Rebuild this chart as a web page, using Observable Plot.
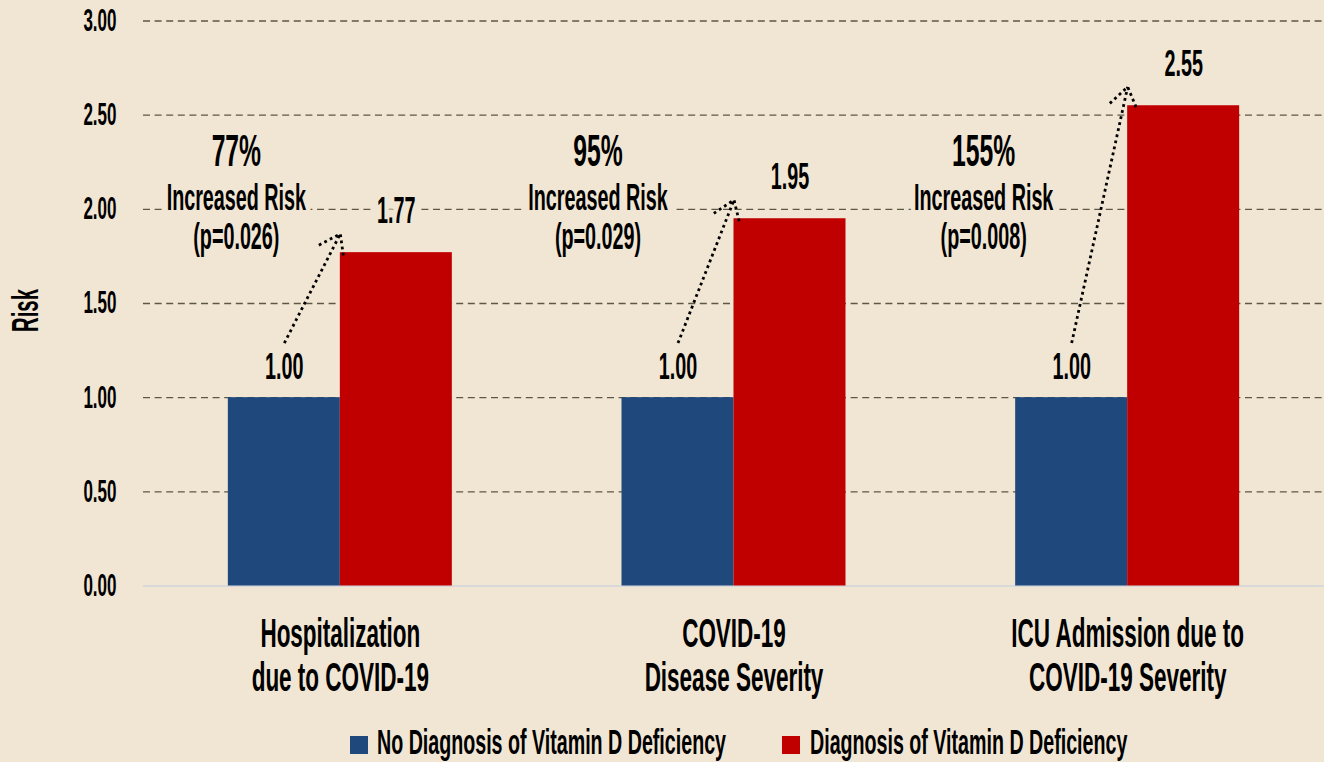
<!DOCTYPE html>
<html>
<head>
<meta charset="utf-8">
<script src="https://cdn.jsdelivr.net/npm/d3@7"></script>
<script src="https://cdn.jsdelivr.net/npm/@observablehq/plot@0.6"></script>
<style>
  html, body { margin: 0; padding: 0; background: #F1E6D3; }
  #wrap { position: relative; width: 1324px; height: 762px; overflow: hidden; background: #F1E6D3; }
  #legend { position: absolute; left: 0; top: 715px; width: 1324px; height: 47px; }
  .sw { position: absolute; width: 18px; height: 18px; top: 21px; }
  .lt { position: absolute; top: 9px; font-size: 35px; line-height: 35px; font-weight: bold; color: #000;
        white-space: nowrap; transform-origin: 0 50%; }
</style>
</head>
<body>
<div id="wrap"><div id="chart"></div><div id="legend"></div></div>
<script>
// ---- data ----
const categories = ["Hospitalization\ndue to COVID-19", "COVID-19\nDisease Severity", "ICU Admission due to\nCOVID-19 Severity"];
const seriesNames = ["No Diagnosis of Vitamin D Deficiency", "Diagnosis of Vitamin D Deficiency"];
const noDeficiency = [1.00, 1.00, 1.00];
const deficiency = [1.77, 1.95, 2.55];
const increasePct = ["77%", "95%", "155%"];
const increaseText = "Increased Risk";
const pValues = ["(p=0.026)", "(p=0.029)", "(p=0.008)"];
const yTicks = [0, 0.5, 1, 1.5, 2, 2.5, 3];

// ---- styles / layout ----
const colors = ["#1F497D", "#C00000"];
const BG = "#F1E6D3";
const FONT = '"Liberation Sans Narrow", "Liberation Sans", Arial, sans-serif';
const W = 0.2845;               // bar width in group units
const annotDx = [-48, -80, -88]; // annotation offset from blue bar center (px)
const annotPctY = 2.2275, annotSubY = 1.787;

const ctx = document.createElement("canvas").getContext("2d");
ctx.font = `bold 41px ${FONT}`;
const S = 160 / ctx.measureText("Hospitalization").width;
ctx.font = `bold 35px ${FONT}`;
const SL = 349 / ctx.measureText(seriesNames[0]).width;

const bars = categories.flatMap((c, i) => [
  {i, s: 0, series: seriesNames[0], value: noDeficiency[i]},
  {i, s: 1, series: seriesNames[1], value: deficiency[i]}
]);
const idx = categories.map((c, i) => i);
const barCenter = d => d.i + 0.5 + (d.s === 0 ? -W / 2 : W / 2);
const fmt = d3.format(".2f");

const marks = [
  Plot.ruleY(yTicks.filter(t => t > 0), {stroke: "#5E5744", strokeWidth: 1.3, strokeDasharray: "7,4.6"}),
  Plot.ruleY([0], {stroke: "#D9D9D9", strokeWidth: 2}),
  Plot.rect(bars, {x1: d => d.i + 0.5 - (d.s === 0 ? W : 0), x2: d => d.i + 0.5 + (d.s === 1 ? W : 0),
                   y1: 0, y2: "value", fill: "series"}),
  ...idx.map(i => Plot.text([i], {x: j => j + 0.5 - W / 2, y: annotPctY, dx: annotDx[i], text: j => increasePct[j],
      fontSize: 45, lineAnchor: "bottom", fill: "black", stroke: BG, strokeWidth: 14})),
  ...idx.map(i => Plot.text([i], {x: j => j + 0.5 - W / 2, y: annotSubY, dx: annotDx[i],
      text: j => increaseText + "\n" + pValues[j], fontSize: 36, lineHeight: 1.09, lineAnchor: "bottom",
      fill: "black", stroke: BG, strokeWidth: 16})),
  Plot.text(bars.filter(d => d.s === 0), {x: barCenter, y: "value", text: d => fmt(d.value), dy: -19,
      lineAnchor: "bottom", fontSize: 36, fill: "black", stroke: BG, strokeWidth: 14}),
  Plot.text(bars.filter(d => d.s === 1), {x: barCenter, y: "value", text: d => fmt(d.value), dy: -30,
      lineAnchor: "bottom", fontSize: 36, fill: "black", stroke: BG, strokeWidth: 16}),
  Plot.arrow(idx, {x1: i => i + 0.5 - W / 2, y1: i => noDeficiency[i] + 0.29, x2: i => i + 0.5, y2: i => deficiency[i] + 0.1,
      stroke: "black", strokeWidth: 2.8, strokeDasharray: "2.8 3.4", strokeLinecap: "butt", headLength: 13, headAngle: 70}),
  Plot.text(idx, {x: i => i + 0.5, frameAnchor: "bottom", text: i => categories[i], dy: 105, lineAnchor: "bottom",
      textAnchor: "middle", fontSize: 41, lineHeight: 1.07, fill: "black"}),
  Plot.text(["Risk"], {frameAnchor: "left", text: d => d, rotate: -90, textAnchor: "middle", lineAnchor: "middle",
      dx: -117.5, dy: 7, fontSize: 37, fill: "black"})
];

const svg = Plot.plot({
  width: 1324, height: 715,
  marginTop: 20.5, marginBottom: 129.5, marginLeft: 143, marginRight: 0,
  style: {background: "transparent", fontFamily: FONT, fontWeight: "bold", fontSize: "31px", color: "black", overflow: "visible"},
  x: {domain: [0, 3], axis: null},
  y: {domain: [0, 3], ticks: yTicks, tickFormat: fmt, tickSize: 0, tickPadding: 27, label: null},
  color: {domain: seriesNames, range: colors},
  marks
});

svg.querySelectorAll("text").forEach(t => {
  const tr = t.getAttribute("transform") || "";
  t.setAttribute("transform", (tr + ` scale(${S},1)`).trim());
  for (const el of [t, ...t.querySelectorAll("tspan")]) {
    const x = el.getAttribute("x");
    if (x != null && x !== "" && !isNaN(+x)) el.setAttribute("x", +x / S);
  }
});
// make sure the arrows are dotted
svg.querySelectorAll("path").forEach(p => {
  const g = p.closest("g");
  if (g && g.getAttribute("stroke-dasharray") === "2.8 3.4") p.setAttribute("stroke-dasharray", "2.8 3.4");
});
document.getElementById("chart").appendChild(svg);

// legend
const legend = document.getElementById("legend");
const swLeft = [350, 782], txLeft = [377, 810];
seriesNames.forEach((name, k) => {
  const sw = document.createElement("div");
  sw.className = "sw"; sw.style.left = swLeft[k] + "px"; sw.style.background = colors[k];
  legend.appendChild(sw);
  const tx = document.createElement("div");
  tx.className = "lt"; tx.style.left = txLeft[k] + "px"; tx.style.fontFamily = FONT;
  tx.style.transform = `scaleX(${SL})`;
  tx.textContent = name;
  legend.appendChild(tx);
});
</script>
</body>
</html>
